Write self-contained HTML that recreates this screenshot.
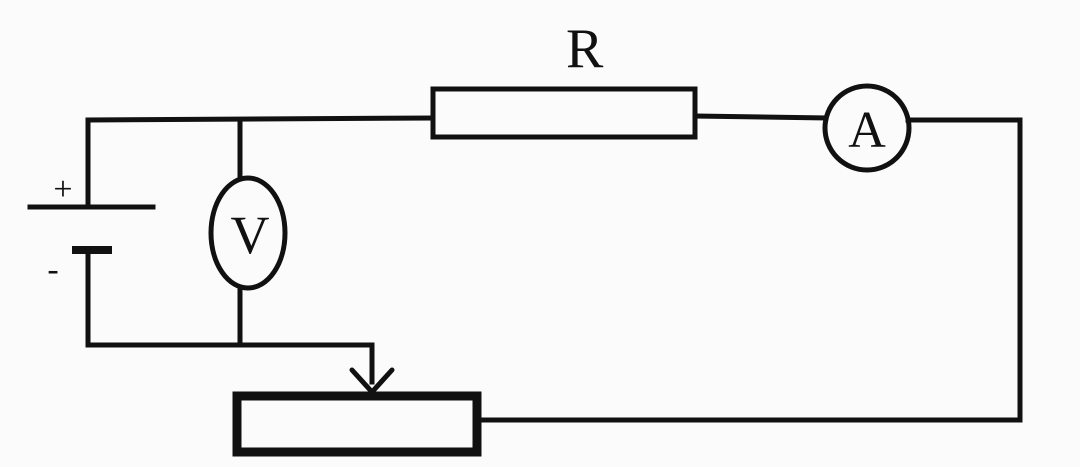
<!DOCTYPE html>
<html><head><meta charset="utf-8"><style>
html,body{margin:0;padding:0;background:#fff;}
svg{display:block;}
text{font-family:"Liberation Serif",serif;fill:#111;}
</style></head><body>
<svg width="1080" height="467" viewBox="0 0 1080 467">
<rect width="1080" height="467" fill="#fbfbfb"/>
<g stroke="#111" stroke-width="5" fill="none" stroke-linecap="square">
  <polyline points="88,205 88,120 433,118"/>
  <line x1="240" y1="120" x2="240" y2="178"/>
  <line x1="240" y1="288" x2="240" y2="345"/>
  <line x1="695" y1="116" x2="826" y2="118"/>
  <polyline points="908,120 1020,120 1020,420 478,420"/>
  <polyline points="88,252 88,345 372,345 372,382"/>
  <polyline points="352,370 372,392 392,370" stroke-linecap="round"/>
  <rect x="433" y="89" width="262" height="48"/>
  <rect x="237" y="396" width="240" height="56" stroke-width="9"/>
  <ellipse cx="867" cy="128" rx="42" ry="42"/>
  <ellipse cx="248" cy="233" rx="37" ry="55"/>
  <line x1="30" y1="207" x2="153" y2="207"/>
  <line x1="76" y1="250" x2="108" y2="250" stroke-width="8"/>
</g>
<text x="566" y="67" font-size="56">R</text>
<text x="867" y="147" font-size="52" text-anchor="middle">A</text>
<text x="250" y="253" font-size="54" text-anchor="middle">V</text>
<text x="63" y="200" font-size="34" text-anchor="middle">+</text>
<text x="53" y="280" font-size="34" text-anchor="middle">-</text>
</svg>
</body></html>
